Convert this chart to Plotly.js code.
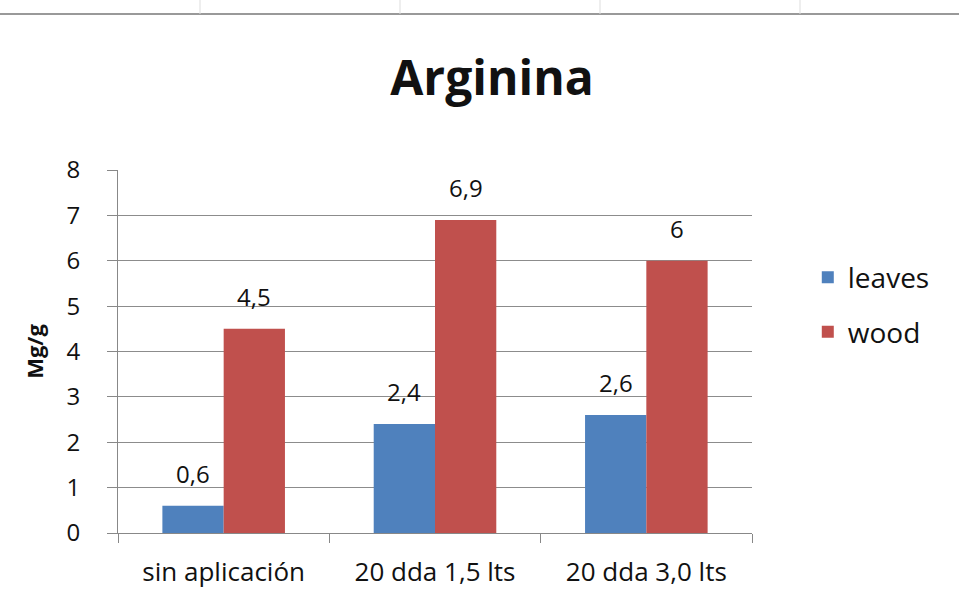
<!DOCTYPE html>
<html>
<head>
<meta charset="utf-8">
<script src="https://cdn.plot.ly/plotly-3.0.1.min.js"></script>
<style>html,body{margin:0;padding:0;background:#fff;}#chart{width:959px;height:596px;}</style>
</head>
<body>
<div id="chart"></div>
<script>
const categories = ["sin aplicación", "20 dda 1,5 lts", "20 dda 3,0 lts"];
const leaves = [0.6, 2.4, 2.6];
const wood = [4.5, 6.9, 6];
const seriesNames = ["leaves", "wood"];
const yTicks = [0, 1, 2, 3, 4, 5, 6, 7, 8];

const fmt = v => String(v).replace('.', ',');
const FONT = "Open Sans, Noto Sans, sans-serif";
const W = 959, H = 596, M = {l: 118, r: 207, t: 170, b: 63};
const BARGAP = 0.42;
const catW = (W - M.l - M.r) / categories.length;
const barW = catW * (1 - BARGAP) / 2;

const traces = [
  {type: 'bar', name: seriesNames[0], x: categories, y: leaves, legendgroup: 'a',
   marker: {color: '#4F81BD'}},
  {type: 'bar', name: seriesNames[1], x: categories, y: wood, legendgroup: 'b',
   marker: {color: '#C0504D'}}
];

const annotations = [];
[[leaves, -barW / 2], [wood, barW / 2]].forEach(([vals, dx]) => {
  vals.forEach((v, i) => {
    annotations.push({x: categories[i], y: v, xref: 'x', yref: 'y', text: fmt(v),
      showarrow: false, xanchor: 'center', yanchor: 'bottom', xshift: dx, yshift: 14,
      font: {size: 24, family: FONT, color: '#111'}});
  });
});

const shapes = [
  {type: 'line', xref: 'paper', yref: 'paper', x0: -0.2, x1: 1.5,
   y0: (H - M.b - 14) / (H - M.t - M.b), y1: (H - M.b - 14) / (H - M.t - M.b),
   line: {color: '#999', width: 2}}
];
[200, 400, 600, 800].forEach(px => {
  const xp = (px - M.l) / (W - M.l - M.r);
  shapes.push({type: 'line', xref: 'paper', yref: 'paper', x0: xp, x1: xp,
    y0: (H - M.b - 14) / (H - M.t - M.b), y1: (H - M.b) / (H - M.t - M.b),
    line: {color: '#ddd', width: 1}});
});

const layout = {
  width: W, height: H,
  paper_bgcolor: '#fff', plot_bgcolor: '#fff',
  margin: M,
  font: {family: FONT, color: '#111'},
  title: {text: '<b>Arginina</b>', font: {size: 48, color: '#111', family: FONT}, x: 0.513, xanchor: 'center', y: 0.869, yanchor: 'middle'},
  barmode: 'group', bargap: BARGAP, bargroupgap: 0,
  xaxis: {type: 'category', showline: true, linecolor: '#888', linewidth: 1,
    ticks: 'outside', tickson: 'boundaries', ticklen: 9, tickcolor: '#888',
    ticklabelstandoff: 16,
    tickfont: {size: 26, family: FONT, color: '#111'}, showgrid: false},
  yaxis: {range: [0, 8], tickvals: yTicks, showline: true, linecolor: '#888', linewidth: 1,
    ticks: 'outside', ticklen: 10, tickcolor: '#888', ticklabelstandoff: 22,
    gridcolor: '#8c8c8c', gridwidth: 1, zeroline: false,
    tickfont: {size: 24, family: FONT, color: '#111'},
    title: {text: '<b>Mg/g</b>', font: {size: 22, family: FONT, color: '#111'}, standoff: 16}},
  legend: {x: 1.088, xanchor: 'left', y: 0.629, yanchor: 'middle', font: {size: 28, family: FONT, color: '#111'},
    tracegroupgap: 15, bgcolor: 'rgba(0,0,0,0)'},
  annotations: annotations,
  shapes: shapes
};
Plotly.newPlot('chart', traces, layout, {displayModeBar: false, staticPlot: true});
</script>
</body>
</html>
